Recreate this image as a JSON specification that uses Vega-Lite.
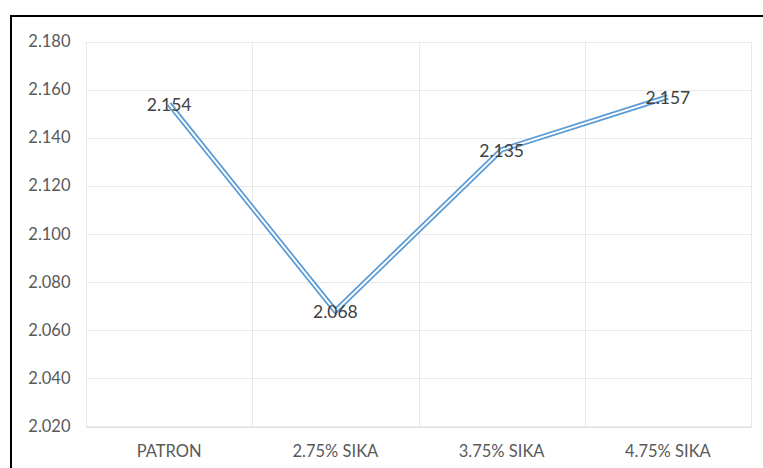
{
  "$schema": "https://vega.github.io/schema/vega-lite/v6.json",
  "width": 752,
  "height": 452,
  "autosize": {"type": "none"},
  "padding": {"left": 11, "top": 16, "right": 0, "bottom": 0},
  "background": "#ffffff",
  "config": {
    "view": {"stroke": "#000000", "strokeWidth": 2, "strokeDash": [752, 1204, 452]},
    "font": "Lato"
  },
  "data": {
    "values": [
      {"mezcla": "PATRON", "valor": 2.154},
      {"mezcla": "2.75% SIKA", "valor": 2.068},
      {"mezcla": "3.75% SIKA", "valor": 2.135},
      {"mezcla": "4.75% SIKA", "valor": 2.157}
    ]
  },
  "encoding": {
    "y": {
      "field": "valor",
      "type": "quantitative",
      "scale": {"domain": [2.02, 2.18], "range": [410.5, 25.5], "nice": false, "zero": false},
      "axis": {
        "title": null,
        "values": [2.02, 2.04, 2.06, 2.08, 2.1, 2.12, 2.14, 2.16, 2.18],
        "format": ".3f",
        "offset": -75,
        "domain": false,
        "ticks": false,
        "grid": true,
        "gridColor": "#e8e8e8",
        "gridWidth": 1,
        "labelFont": "Lato",
        "labelFontSize": 16.5,
        "labelColor": "#595959",
        "labelPadding": 16
      }
    }
  },
  "layer": [
    {
      "mark": {"type": "line", "color": "#5B9BD5", "strokeWidth": 5.4},
      "encoding": {
        "x": {
          "field": "mezcla",
          "type": "nominal",
          "sort": null,
          "bandPosition": 0.5,
          "scale": {"type": "band", "paddingInner": 0, "paddingOuter": 0, "range": [75, 740]},
          "axis": {
            "orient": "bottom",
            "title": null,
            "labelAngle": 0,
            "offset": -41.5,
            "grid": false,
            "domainColor": "#d9d9d9",
            "ticks": false,
            "labelFont": "Lato",
            "labelFontSize": 16.5,
            "labelColor": "#595959",
            "labelPadding": 17
          }
        }
      }
    },
    {
      "mark": {"type": "line", "color": "#ffffff", "strokeWidth": 1.9},
      "encoding": {
        "x": {
          "field": "mezcla",
          "type": "nominal",
          "sort": null,
          "bandPosition": 0.5,
          "scale": {"type": "band", "paddingInner": 0, "paddingOuter": 0, "range": [75, 740]},
          "axis": {
            "orient": "top",
            "title": null,
            "tickBand": "extent",
            "grid": true,
            "gridColor": "#e8e8e8",
            "gridWidth": 1,
            "labels": false,
            "domain": false,
            "ticks": false
          }
        }
      }
    },
    {
      "mark": {"type": "text", "fontSize": 17.5, "color": "#404040", "font": "Lato", "align": "center", "baseline": "middle", "dy": 2},
      "encoding": {
        "x": {
          "field": "mezcla",
          "type": "nominal",
          "sort": null,
          "bandPosition": 0.5,
          "scale": {"type": "band", "paddingInner": 0, "paddingOuter": 0, "range": [75, 740]},
          "axis": null
        },
        "text": {"field": "valor", "type": "quantitative", "format": ".3f"}
      }
    }
  ],
  "resolve": {"axis": {"x": "independent"}}
}
